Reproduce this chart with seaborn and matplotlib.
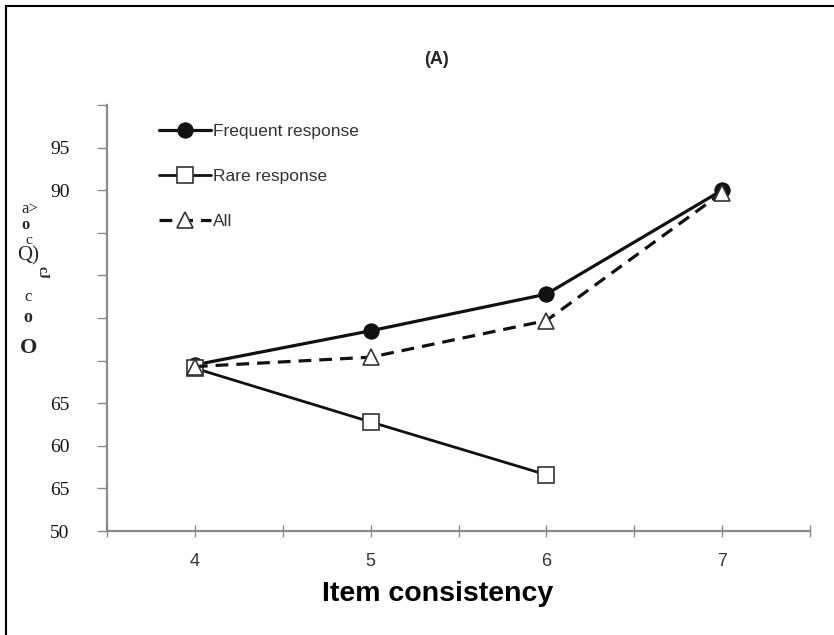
import matplotlib
matplotlib.use("Agg")
import matplotlib.pyplot as plt
import seaborn as sns
import pandas as pd
from matplotlib.lines import Line2D

sns.set_theme(style="white")
plt.rcParams['font.family'] = ['Liberation Sans', 'DejaVu Sans']

# Data
consistency_freq = [4, 5, 6, 7]
frequent = [69.5, 73.5, 77.8, 90.0]
consistency_rare = [4, 5, 6]
rare = [69.1, 62.8, 56.6]
consistency_all = [4, 5, 6, 7]
all_resp = [69.3, 70.4, 74.7, 89.7]

y_ticks = [50, 55, 60, 65, 70, 75, 80, 85, 90, 95, 100]
y_tick_labels = ["50", "65", "60", "65", "", "", "", "", "90", "95", ""]
x_ticks = [3.5, 4, 4.5, 5, 5.5, 6, 6.5, 7, 7.5]
x_tick_labels = ["", "4", "", "5", "", "6", "", "7", ""]

fig = plt.figure(figsize=(8.34, 6.35), dpi=100)
ax = fig.add_axes([107/834, 1-531/635, (810-107)/834, (531-105)/635])

dark = "#111111"
axis_gray = "#8a8a8a"

sns.lineplot(x=consistency_freq, y=frequent, ax=ax, color=dark, lw=2.3,
             marker="o", markersize=11, markerfacecolor=dark, markeredgecolor=dark,
             label="Frequent response")
sns.lineplot(x=consistency_rare, y=rare, ax=ax, color=dark, lw=2.0,
             marker="s", markersize=11, markerfacecolor="white", markeredgecolor="#333333",
             markeredgewidth=1.2, label="Rare response")
sns.lineplot(x=consistency_all, y=all_resp, ax=ax, color=dark, lw=2.3, linestyle=(0, (4, 2.5)),
             marker="^", markersize=11, markerfacecolor="white", markeredgecolor="#333333",
             markeredgewidth=1.2, label="All")

ax.set_xlim(3.5, 7.5)
ax.set_ylim(50, 100)
ax.set_yticks(y_ticks)
ax.set_yticklabels(y_tick_labels, family=["Liberation Serif"], fontsize=14, color="#111111")
ax.set_xticks(x_ticks)
ax.set_xticklabels(x_tick_labels, fontsize=13, color="#333333")
ax.tick_params(axis="y", direction="out", length=7, width=1, color=axis_gray, pad=20, left=True)
ax.tick_params(axis="x", direction="inout", length=8, width=1, color=axis_gray, pad=12, bottom=True)

for s in ["top", "right"]:
    ax.spines[s].set_visible(False)
for s in ["left", "bottom"]:
    ax.spines[s].set_color(axis_gray)
    ax.spines[s].set_linewidth(1.6)
ax.grid(False)

ax.set_xlabel("")
ax.set_ylabel("")
fig.text(438/834, 1-594/635, "Item consistency", ha="center", va="center",
         fontsize=20.5, fontweight="bold", color="#000000")

leg = ax.legend(loc="upper left", bbox_to_anchor=(152/834, 1-117/635), bbox_transform=fig.transFigure,
                frameon=False, fontsize=12.5, handlelength=3.0, handletextpad=0.1,
                labelspacing=1.72, borderaxespad=0)
for t in leg.get_texts():
    t.set_color("#333333")

fig.text(437/834, 1-60/635, "(A)", ha="center", va="center", fontsize=13, fontweight="bold")

# garbled y-axis label as it appears
serif = ["Liberation Serif", "DejaVu Serif"]
fig.text(30/834, 1-209/635, "a>", ha="center", va="center", fontsize=12, family=serif)
fig.text(25/834, 1-225/635, "o", ha="center", va="center", fontsize=12, family=serif, fontweight="bold")
fig.text(29/834, 1-240/635, "c", ha="center", va="center", fontsize=11, family=serif)
fig.text(28/834, 1-256/635, "Q)", ha="center", va="center", fontsize=15, family=serif)
fig.text(42/834, 1-273/635, "cJ", ha="center", va="center", fontsize=10, family=serif, fontweight="bold", rotation=-90)
fig.text(28/834, 1-297/635, "c", ha="center", va="center", fontsize=12, family=serif)
fig.text(28/834, 1-318/635, "o", ha="center", va="center", fontsize=13, family=serif, fontweight="bold")
fig.text(29/834, 1-348/635, "O", ha="center", va="center", fontsize=16, family=serif, fontweight="bold")

# figure frame (top and left edges visible)
fig.add_artist(Line2D([6/834, 6/834], [0, 1-6/635], transform=fig.transFigure, color="black", lw=1.5))
fig.add_artist(Line2D([6/834, 1], [1-6/635, 1-6/635], transform=fig.transFigure, color="black", lw=1.5))

fig.savefig("out.png", dpi=100)
